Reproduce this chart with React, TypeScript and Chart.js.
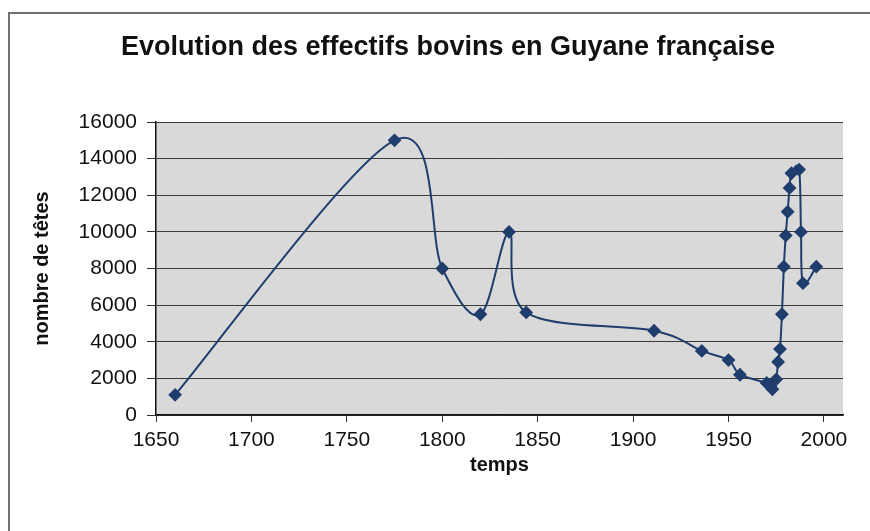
import React, { useEffect, useRef } from "react";
import { Chart, registerables } from "chart.js";

Chart.register(...registerables);

const years = [1660, 1775, 1800, 1820, 1835, 1844, 1911, 1936, 1950, 1956, 1970, 1972, 1973, 1975, 1976, 1977, 1978, 1979, 1980, 1981, 1982, 1983, 1987, 1988, 1989, 1996];
const heads = [1100, 15000, 8000, 5500, 10000, 5600, 4600, 3500, 3000, 2200, 1750, 1550, 1400, 1950, 2900, 3600, 5500, 8100, 9800, 11100, 12400, 13200, 13400, 10000, 7200, 8100];

const titleText = "Evolution des effectifs bovins en Guyane française";
const xTitle = "temps";
const yTitle = "nombre de têtes";
const xMin = 1650;
const xMax = 2010;
const xStep = 50;
const yMin = 0;
const yMax = 16000;
const yStep = 2000;

const FONT = "'Liberation Sans', Arial, sans-serif";
const LINE = "#1f3d6d";

const framePlugin = {
  id: "frame",
  beforeDraw(chart: any) {
    const { ctx, width, height, chartArea } = chart;
    ctx.save();
    ctx.fillStyle = "#ffffff";
    ctx.fillRect(0, 0, width, height);
    ctx.strokeStyle = "#707070";
    ctx.lineWidth = 2;
    ctx.strokeRect(9, 13, width + 20, height + 20);
    ctx.fillStyle = "#d9d9d9";
    ctx.fillRect(chartArea.left, chartArea.top, chartArea.right - chartArea.left, chartArea.bottom - chartArea.top);
    ctx.restore();
  },
};

// Spreadsheet-style smoothing: handles of (next - previous) / 6 at each point
const smoothPlugin = {
  id: "smooth",
  beforeDatasetsDraw(chart: any) {
    const meta = chart.getDatasetMeta(0);
    const line = meta.dataset;
    const pts = meta.data;
    if (!line || !pts || !pts.length) return;
    line.updateControlPoints(chart.chartArea, "x");
    const n = pts.length;
    for (let i = 0; i < n; i++) {
      const p0 = pts[Math.max(i - 1, 0)];
      const p1 = pts[i];
      const p2 = pts[Math.min(i + 1, n - 1)];
      const dx = (p2.x - p0.x) / 6;
      const dy = (p2.y - p0.y) / 6;
      p1.cp1x = p1.x - dx;
      p1.cp1y = p1.y - dy;
      p1.cp2x = p1.x + dx;
      p1.cp2y = p1.y + dy;
    }
    line._pointsUpdated = true;
    line._path = undefined;
  },
};

export default function App() {
  const ref = useRef<HTMLCanvasElement | null>(null);
  useEffect(() => {
    if (!ref.current) return;
    const chart = new Chart(ref.current, {
      type: "line",
      data: {
        datasets: [
          {
            data: years.map((x, i) => ({ x, y: heads[i] })),
            borderColor: LINE,
            borderWidth: 2,
            tension: 0.3,
            capBezierPoints: false,
            pointStyle: "rectRot",
            pointRadius: 5.5,
            pointBackgroundColor: LINE,
            pointBorderColor: LINE,
            fill: false,
          },
        ],
      },
      options: {
        responsive: false,
        animation: false,
        devicePixelRatio: 1,
        layout: { padding: { left: 53, right: 27, top: 14, bottom: 16 } },
        plugins: {
          legend: { display: false },
          tooltip: { enabled: false },
          title: {
            display: true,
            text: titleText,
            color: "#111",
            font: { family: FONT, size: 27, weight: "bold" },
            padding: { top: 17.8, bottom: 57.8 },
          },
        },
        scales: {
          x: {
            type: "linear",
            min: xMin,
            max: xMax,
            afterFit: (s: any) => {
              s.height = 100;
            },
            ticks: {
              stepSize: xStep,
              includeBounds: false,
              color: "#111",
              font: { family: FONT, size: 21 },
              padding: 6,
              maxRotation: 0,
              callback: (v: any) => String(v),
            },
            grid: { drawOnChartArea: false, drawTicks: true, tickLength: 7, color: "#333" },
            border: { display: true, color: "#111", width: 1.5 },
            title: {
              display: true,
              text: xTitle,
              color: "#111",
              font: { family: FONT, size: 20, weight: "bold" },
              padding: { top: 0, bottom: 38 },
            },
          },
          y: {
            type: "linear",
            min: yMin,
            max: yMax,
            afterFit: (s: any) => {
              s.width = 103;
            },
            ticks: {
              stepSize: yStep,
              color: "#111",
              font: { family: FONT, size: 21 },
              padding: 10,
              callback: (v: any) => String(v),
            },
            grid: { color: "#3a3a3a", lineWidth: 1, tickLength: 9, tickColor: "#333" },
            border: { display: true, color: "#111", width: 1.5 },
            title: {
              display: true,
              text: yTitle,
              color: "#111",
              font: { family: FONT, size: 20, weight: "bold" },
              padding: { top: -23, bottom: 0 },
            },
          },
        },
      },
      plugins: [framePlugin, smoothPlugin],
    });
    return () => chart.destroy();
  }, []);
  return (
    <div style={{ position: "absolute", left: 0, top: 0, width: 870, height: 531 }}>
      <canvas ref={ref} width={870} height={531} />
    </div>
  );
}
